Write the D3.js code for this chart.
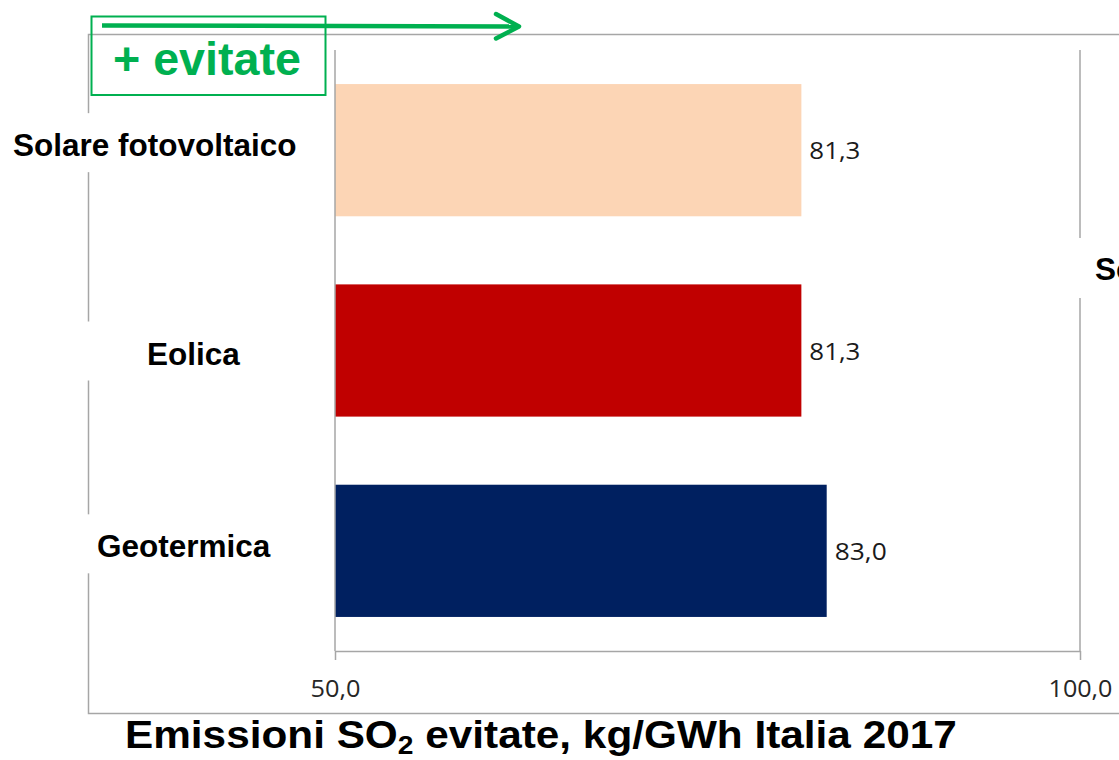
<!DOCTYPE html>
<html>
<head>
<meta charset="utf-8">
<script src="https://cdn.jsdelivr.net/npm/d3@7"></script>
<style>
  html, body { margin: 0; padding: 0; background: #fff; }
  svg { display: block; }
</style>
</head>
<body>
<svg id="chart" width="1119" height="760"></svg>
<script>
// ---- data ----
const categories = ["Solare fotovoltaico", "Eolica", "Geotermica"];
const values = [81.3, 81.3, 83.0];
const barColors = ["#FCD5B5", "#C00000", "#002060"];
const xDomain = [50, 100];
const xTicks = [50, 100];
const titleMain = "Emissioni SO";
const titleSub = "2";
const titleRest = " evitate, kg/GWh Italia 2017";
const arrowLabel = "+ evitate";
const nextCategoryLabel = "So";

// ---- setup ----
const W = 1119, H = 760;
const svg = d3.select("#chart");
const fmt = v => d3.format(".1f")(v).replace(".", ",");
const GREEN = "#00B050";
const LINE = "#a6a6a6";
const ARIAL = "'Liberation Sans', Arial, sans-serif";
const LABEL_FONT = "'Open Sans', 'DejaVu Sans', sans-serif";

const plot = { left: 335, right: 1080, top: 50, bottom: 651 };

const x = d3.scaleLinear().domain(xDomain).range([plot.left, plot.right]);
const y = d3.scaleBand()
  .domain(categories)
  .range([plot.top, plot.bottom])
  .paddingInner(0.34)
  .paddingOuter(0.17);

// stretch a text group horizontally about its anchor so it spans `width`
function fitWidth(g, width) {
  const t = g.select("text").node();
  const w = t.getBBox().width;
  const s = width / w;
  const tr = g.attr("transform");
  g.attr("transform", `${tr} scale(${s},1)`);
}

svg.append("rect").attr("width", W).attr("height", H).attr("fill", "#fff");

// outer frame of the panel
svg.append("path")
  .attr("d", `M${W},34.5 H88.5 V713.5 H${W}`)
  .attr("fill", "none")
  .attr("stroke", LINE)
  .attr("stroke-width", 1.5);

// vertical gridlines
svg.append("g")
  .selectAll("line")
  .data(xTicks.filter(t => t !== xDomain[0]))
  .join("line")
  .attr("x1", d => x(d)).attr("x2", d => x(d))
  .attr("y1", plot.top).attr("y2", plot.bottom)
  .attr("stroke", LINE).attr("stroke-width", 1.5);

// bars
svg.append("g")
  .selectAll("rect")
  .data(categories)
  .join("rect")
  .attr("x", x(xDomain[0]))
  .attr("y", d => y(d))
  .attr("width", (d, i) => x(values[i]) - x(xDomain[0]))
  .attr("height", y.bandwidth())
  .attr("fill", (d, i) => barColors[i]);

// vertical category axis line
svg.append("line")
  .attr("x1", plot.left).attr("x2", plot.left)
  .attr("y1", plot.top).attr("y2", plot.bottom)
  .attr("stroke", LINE).attr("stroke-width", 1.5);

// bottom value axis
const axis = d3.axisBottom(x)
  .tickValues(xTicks)
  .tickFormat(fmt)
  .tickSizeInner(9)
  .tickSizeOuter(0);

const gx = svg.append("g")
  .attr("transform", `translate(0,${plot.bottom})`)
  .call(axis);
gx.attr("font-family", null).attr("font-size", null);
gx.select(".domain").attr("stroke", LINE).attr("stroke-width", 1.5);
gx.selectAll(".tick line").attr("stroke", LINE).attr("stroke-width", 1.5);
const tickWidths = { 50: 50, 100: 64 };
gx.selectAll(".tick").each(function (d) {
  const tick = d3.select(this);
  const txt = tick.select("text").text();
  tick.select("text").remove();
  const tg = tick.append("g").attr("transform", "translate(0,46)");
  tg.append("text")
    .attr("text-anchor", "middle")
    .attr("font-family", LABEL_FONT)
    .attr("font-size", 23)
    .attr("fill", "#262626")
    .text(txt);
  fitWidth(tg, tickWidths[d]);
});

// value labels at the end of each bar
const valueWidths = [51, 51, 52];
categories.forEach((c, i) => {
  const g = svg.append("g")
    .attr("transform", `translate(${x(values[i]) + 8},${y(c) + y.bandwidth() / 2 + 9})`);
  g.append("text")
    .attr("font-family", LABEL_FONT)
    .attr("font-size", 23)
    .attr("fill", "#1a1a1a")
    .text(fmt(values[i]));
  fitWidth(g, valueWidths[i]);
});

// category labels on white backing
const labelLayout = [
  { x: 13, dy: 6, box: [0, 327] },
  { x: 147, dy: 14, box: [84, 333] },
  { x: 97, dy: 6.5, box: [84, 315] }
];
categories.forEach((c, i) => {
  const cy = y(c) + y.bandwidth() / 2;
  const L = labelLayout[i];
  svg.append("rect")
    .attr("x", L.box[0]).attr("width", L.box[1] - L.box[0])
    .attr("y", cy + L.dy - 43).attr("height", 59)
    .attr("fill", "#fff");
  svg.append("text")
    .attr("x", L.x).attr("y", cy + L.dy)
    .attr("font-family", ARIAL)
    .attr("font-weight", "bold")
    .attr("font-size", 31.5)
    .attr("fill", "#000")
    .text(c);
});

// next panel's category label, running off the right edge
svg.append("rect")
  .attr("x", 1077).attr("y", 238).attr("width", W - 1077).attr("height", 60)
  .attr("fill", "#fff");
svg.append("text")
  .attr("x", 1095).attr("y", 280)
  .attr("font-family", ARIAL)
  .attr("font-weight", "bold")
  .attr("font-size", 31.5)
  .attr("fill", "#000")
  .text(nextCategoryLabel);

// direction arrow and its boxed label
svg.append("rect")
  .attr("x", 91.5).attr("y", 16.5).attr("width", 234).attr("height", 78.5)
  .attr("fill", "none")
  .attr("stroke", GREEN).attr("stroke-width", 2);
svg.append("line")
  .attr("x1", 102).attr("y1", 25.5).attr("x2", 517).attr("y2", 26.5)
  .attr("stroke", GREEN).attr("stroke-width", 4.5);
svg.append("path")
  .attr("d", "M496,14 L519,26.5 L496,38.5")
  .attr("fill", "none")
  .attr("stroke", GREEN).attr("stroke-width", 4.5)
  .attr("stroke-linecap", "round").attr("stroke-linejoin", "round");
const ag = svg.append("g").attr("transform", "translate(113,75)");
ag.append("text")
  .attr("font-family", ARIAL)
  .attr("font-weight", "bold")
  .attr("font-size", 46)
  .attr("fill", GREEN)
  .text(arrowLabel);
fitWidth(ag, 188);

// chart title with subscript
const tg = svg.append("g").attr("transform", "translate(125,748)");
const tt = tg.append("text")
  .attr("font-family", ARIAL)
  .attr("font-weight", "bold")
  .attr("font-size", 39)
  .attr("fill", "#000");
tt.append("tspan").text(titleMain);
tt.append("tspan").attr("font-size", 26).attr("dy", 6).text(titleSub);
tt.append("tspan").attr("dy", -6).text(titleRest);
fitWidth(tg, 832);
</script>
</body>
</html>
